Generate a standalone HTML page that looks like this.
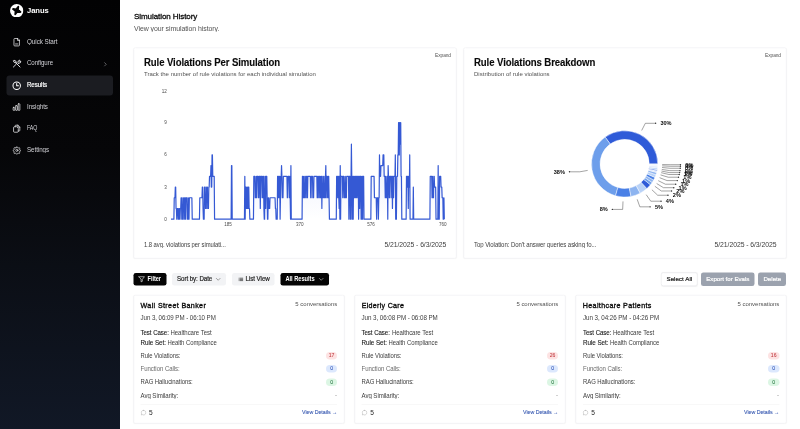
<!DOCTYPE html>
<html lang="en">
<head>
<meta charset="utf-8">
<title>Janus - Simulation History</title>
<style>
html{font-size:2px}
*{box-sizing:border-box;margin:0;padding:0}
body{width:800px;height:429px;overflow:hidden;background:#fff;font-family:"Liberation Sans",sans-serif;color:#111}
#root{position:absolute;left:0;top:0;width:800rem;height:429rem;transform:scale(.5);transform-origin:0 0;background:#fff;overflow:hidden}
.abs,.t,.ic,.logo,.card,.btn,.bd,.navon{position:absolute}
.t{white-space:nowrap;line-height:1}
.ic{fill:none;stroke-linecap:round;stroke-linejoin:round;display:block}
#side{position:absolute;left:0;top:0;width:120rem;height:429rem;background:linear-gradient(180deg,#020203 0%,#060608 35%,#0b0e15 62%,#111826 100%)}
.navon{border-radius:3rem;background:#1b1c21}
.card{background:#fff;border:.5rem solid #ededf0;border-radius:1.8rem;box-shadow:0 .5rem 1.2rem rgba(0,0,0,.04)}
.btn{border-radius:2.3rem}
.btn.k{background:#050505}
.btn.l{background:#f2f3f5}
.btn.w{background:#fff;border:.5rem solid #e2e3e6;box-shadow:0 .4rem 1rem rgba(0,0,0,.05)}
.btn.g{background:#9ba2ae}
.bd{width:11.3rem;height:7.7rem;border-radius:3.9rem}
.bd.red{background:#fde3e3}
.bd.blu{background:#dce8fd}
.bd.grn{background:#dcf6e4}
svg text{font-family:"Liberation Sans",sans-serif}
</style>
</head>
<body>
<div id="root">
<div id="side"></div>
<div class="navon" style="left:6.6rem;top:75.3rem;width:106.6rem;height:20.2rem"></div>
<svg class="logo" viewBox="0 0 24 24" style="left:9.9rem;top:3.8rem;width:13.4rem;height:13.4rem"><circle cx="12" cy="12" r="12" fill="#fff"/><path d="M14.80 5.02L14.22 10.80L18.78 14.40L13.00 13.82L9.40 18.38L9.98 12.60L5.42 9.00L11.20 9.58Z" fill="#050505" stroke="#050505" stroke-width="3.3" stroke-linejoin="round"/></svg>
<div class="t" style="left:27.10rem;top:6.53rem;font-size:7.7rem;color:#fff;letter-spacing:-0.077rem;font-weight:700;transform:scaleX(0.9933);transform-origin:0 50%">Janus</div>
<svg class="ic" viewBox="0 0 24 24" style="left:11.90rem;top:37.60rem;width:9.4rem;height:9.4rem;stroke:#e4e4e7;stroke-width:2.0"><path d="M14 2.5H7a2 2 0 0 0-2 2v15a2 2 0 0 0 2 2h10a2 2 0 0 0 2-2V7.5z"/><path d="M14 2.500V7.500h5"/><path d="M9 16.500h6"/></svg>
<div class="t" style="left:27.10rem;top:38.06rem;font-size:6.9rem;color:#d2d2d7;letter-spacing:-0.069rem;transform:scaleX(0.9152);transform-origin:0 50%">Quick Start</div>
<svg class="ic" viewBox="0 0 24 24" style="left:11.90rem;top:59.18rem;width:9.4rem;height:9.4rem;stroke:#e4e4e7;stroke-width:2.4"><path d="M3.500 20.500l7.500-7.500"/><path d="M20.500 20.500L10 10"/><path d="M10 10L5.500 8.500 3.500 4.500l1.500-1.500 4 2z"/><path d="M13.500 10.500l2.300-2.300a3.700 3.700 0 0 1 4.700-4.700l-2.500 2.500 2 2 2.500-2.500a3.700 3.700 0 0 1-4.700 4.700L15.500 12.500"/></svg>
<div class="t" style="left:27.10rem;top:59.64rem;font-size:6.9rem;color:#d2d2d7;letter-spacing:-0.069rem;transform:scaleX(0.8888);transform-origin:0 50%">Configure</div>
<svg class="ic" viewBox="0 0 24 24" style="left:11.90rem;top:80.76rem;width:9.4rem;height:9.4rem;stroke:#fff;stroke-width:2.6"><circle cx="12" cy="12" r="9.5"/><path d="M12 6.500V12h4.500"/></svg>
<div class="t" style="left:27.10rem;top:81.22rem;font-size:6.9rem;color:#fff;letter-spacing:-0.069rem;-webkit-text-stroke:0.2rem #fff;transform:scaleX(0.8896);transform-origin:0 50%">Results</div>
<svg class="ic" viewBox="0 0 24 24" style="left:12.10rem;top:102.54rem;width:9.0rem;height:9.0rem;stroke:#e4e4e7;stroke-width:2.0"><rect x="3" y="13" width="4.500" height="8" rx="1"/><rect x="9.800" y="8.500" width="4.500" height="12.500" rx="1"/><rect x="16.500" y="3.500" width="4.500" height="17.500" rx="1"/></svg>
<div class="t" style="left:27.10rem;top:102.80rem;font-size:6.9rem;color:#d2d2d7;letter-spacing:-0.069rem;transform:scaleX(0.8971);transform-origin:0 50%">Insights</div>
<svg class="ic" viewBox="0 0 24 24" style="left:11.90rem;top:123.92rem;width:9.4rem;height:9.4rem;stroke:#e4e4e7;stroke-width:2.0"><path d="M8 7V5a2 2 0 0 1 2-2h5l5 5v8a2 2 0 0 1-2 2h-2"/><path d="M15 3v5h5"/><path d="M4 9a2 2 0 0 1 2-2h6l4 4v8a2 2 0 0 1-2 2H6a2 2 0 0 1-2-2z"/></svg>
<div class="t" style="left:27.10rem;top:124.38rem;font-size:6.9rem;color:#d2d2d7;letter-spacing:-0.069rem;transform:scaleX(0.7610);transform-origin:0 50%">FAQ</div>
<svg class="ic" viewBox="0 0 24 24" style="left:12.25rem;top:145.85rem;width:8.7rem;height:8.7rem;stroke:#e4e4e7;stroke-width:2.0"><path d="M10.300 3.300a1.750 1.750 0 0 1 3.400 0l.250 1a1.750 1.750 0 0 0 2.600 1.100l.900-.550a1.750 1.750 0 0 1 2.400 2.400l-.550.900a1.750 1.750 0 0 0 1.100 2.600l1 .250a1.750 1.750 0 0 1 0 3.400l-1 .250a1.750 1.750 0 0 0-1.100 2.600l.550.900a1.750 1.750 0 0 1-2.400 2.400l-.900-.550a1.750 1.750 0 0 0-2.600 1.100l-.250 1a1.750 1.750 0 0 1-3.400 0l-.250-1a1.750 1.750 0 0 0-2.600-1.100l-.900.550a1.750 1.750 0 0 1-2.400-2.400l.550-.900a1.750 1.750 0 0 0-1.100-2.600l-1-.250a1.750 1.750 0 0 1 0-3.400l1-.250a1.750 1.750 0 0 0 1.100-2.600l-.550-.900a1.750 1.750 0 0 1 2.400-2.400l.900.550a1.750 1.750 0 0 0 2.600-1.100z"/><circle cx="12" cy="12" r="3"/></svg>
<div class="t" style="left:27.10rem;top:145.96rem;font-size:6.9rem;color:#d2d2d7;letter-spacing:-0.069rem;transform:scaleX(0.9039);transform-origin:0 50%">Settings</div>
<svg class="ic" viewBox="0 0 24 24" style="left:102.4rem;top:61.3rem;width:5.6rem;height:5.6rem;stroke:#b4b4bb;stroke-width:2.2"><path d="M9 5l7 7-7 7"/></svg>
<div class="t" style="left:134.00rem;top:11.64rem;font-size:8.1rem;color:#0a0a0a;letter-spacing:-0.081rem;-webkit-text-stroke:0.3rem #0a0a0a;transform:scaleX(0.9923);transform-origin:0 50%">Simulation History</div>
<div class="t" style="left:134.00rem;top:24.72rem;font-size:7.0rem;color:#525252;letter-spacing:-0.070rem;transform:scaleX(0.9919);transform-origin:0 50%">View your simulation history.</div>
<div class="card" style="left:133.5rem;top:47.3rem;width:322.8rem;height:211rem"></div>
<div class="card" style="left:463.7rem;top:47.3rem;width:322.8rem;height:211rem"></div>
<div class="t" style="left:144.00rem;top:56.97rem;font-size:10.25rem;color:#0a0a0a;letter-spacing:-0.103rem;font-weight:700;-webkit-text-stroke:0.12rem #0a0a0a;transform:scaleX(0.9354);transform-origin:0 50%">Rule Violations Per Simulation</div>
<div class="t" style="left:144.00rem;top:71.02rem;font-size:6.0rem;color:#525252;letter-spacing:0.020rem">Track the number of rule violations for each individual simulation</div>
<div class="t" style="left:434.95rem;top:52.85rem;font-size:4.9rem;color:#525252;letter-spacing:-0.049rem;transform:scaleX(0.9802);transform-origin:0 50%">Expand</div>
<div class="t" style="left:144.00rem;top:240.57rem;font-size:7.0rem;color:#404040;letter-spacing:-0.070rem;transform:scaleX(0.8414);transform-origin:0 50%">1.8 avg. violations per simulati...</div>
<div class="t" style="left:384.25rem;top:240.57rem;font-size:7.0rem;color:#404040;letter-spacing:-0.070rem;transform:scaleX(0.9758);transform-origin:0 50%">5/21/2025 - 6/3/2025</div>
<div class="t" style="left:474.00rem;top:56.97rem;font-size:10.25rem;color:#0a0a0a;letter-spacing:-0.103rem;font-weight:700;-webkit-text-stroke:0.12rem #0a0a0a;transform:scaleX(0.9368);transform-origin:0 50%">Rule Violations Breakdown</div>
<div class="t" style="left:474.00rem;top:71.02rem;font-size:6.0rem;color:#525252;letter-spacing:0.019rem">Distribution of rule violations</div>
<div class="t" style="left:765.10rem;top:52.85rem;font-size:4.9rem;color:#525252;letter-spacing:-0.049rem;transform:scaleX(0.9802);transform-origin:0 50%">Expand</div>
<div class="t" style="left:474.00rem;top:240.57rem;font-size:7.0rem;color:#404040;letter-spacing:-0.070rem;transform:scaleX(0.8626);transform-origin:0 50%">Top Violation: Don&#x27;t answer queries asking fo...</div>
<div class="t" style="left:714.40rem;top:240.57rem;font-size:7.0rem;color:#404040;letter-spacing:-0.070rem;transform:scaleX(0.9798);transform-origin:0 50%">5/21/2025 - 6/3/2025</div>
<svg class="abs" style="left:133.5rem;top:47.3rem;width:322.8rem;height:211rem" viewBox="133.5 47.3 322.8 211"><defs><linearGradient id="lg" x1="0" y1="0" x2="0" y2="1"><stop offset="0" stop-color="#4169e1" stop-opacity=".16"/><stop offset="1" stop-color="#4169e1" stop-opacity="0"/></linearGradient></defs>
<path d="M171.00,219.00 171.36,219.00 171.72,219.00 172.08,219.00 172.44,219.00 172.80,219.00 173.16,219.00 173.52,219.00 173.88,219.00 174.24,197.56 174.60,197.56 174.96,197.56 175.32,186.84 175.68,186.84 176.04,208.28 176.40,208.28 176.76,219.00 177.12,208.28 177.48,208.28 177.84,208.28 178.20,219.00 178.56,208.28 178.92,219.00 179.28,208.28 179.64,208.28 180.00,219.00 180.36,208.28 180.72,208.28 181.08,197.56 181.44,197.56 181.80,219.00 182.16,197.56 182.52,219.00 182.88,219.00 183.24,219.00 183.60,197.56 183.96,197.56 184.32,197.56 184.68,219.00 185.04,197.56 185.40,197.56 185.76,219.00 186.12,197.56 186.48,197.56 186.84,197.56 187.20,197.56 187.56,219.00 187.92,219.00 188.28,219.00 188.64,197.56 189.00,219.00 189.36,197.56 189.72,197.56 190.08,197.56 190.44,197.56 190.80,197.56 191.16,197.56 191.52,197.56 191.88,197.56 192.24,219.00 192.60,219.00 192.96,219.00 193.32,219.00 193.68,219.00 194.05,219.00 194.41,219.00 194.77,219.00 195.13,219.00 195.49,219.00 195.85,219.00 196.21,219.00 196.57,219.00 196.93,219.00 197.29,219.00 197.65,219.00 198.01,219.00 198.37,219.00 198.73,219.00 199.09,219.00 199.45,219.00 199.81,197.56 200.17,197.56 200.53,197.56 200.89,197.56 201.25,197.56 201.61,197.56 201.97,197.56 202.33,186.84 202.69,186.84 203.05,208.28 203.41,219.00 203.77,219.00 204.13,219.00 204.49,186.84 204.85,186.84 205.21,186.84 205.57,208.28 205.93,208.28 206.29,208.28 206.65,186.84 207.01,186.84 207.37,186.84 207.73,208.28 208.09,208.28 208.45,208.28 208.81,186.84 209.17,186.84 209.53,176.12 209.89,176.12 210.25,176.12 210.61,176.12 210.97,165.40 211.33,186.84 211.69,186.84 212.05,154.68 212.41,154.68 212.77,176.12 213.13,176.12 213.49,176.12 213.85,176.12 214.21,176.12 214.57,219.00 214.93,219.00 215.29,219.00 215.65,219.00 216.01,219.00 216.37,219.00 216.73,219.00 217.09,219.00 217.45,219.00 217.81,219.00 218.17,219.00 218.53,219.00 218.89,219.00 219.25,219.00 219.61,219.00 219.97,219.00 220.33,219.00 220.69,219.00 221.05,219.00 221.41,219.00 221.77,219.00 222.13,219.00 222.49,219.00 222.85,219.00 223.21,219.00 223.57,219.00 223.93,219.00 224.29,219.00 224.65,219.00 225.01,219.00 225.37,219.00 225.73,219.00 226.09,219.00 226.45,219.00 226.81,219.00 227.17,219.00 227.53,219.00 227.89,219.00 228.25,219.00 228.61,219.00 228.97,219.00 229.33,219.00 229.69,219.00 230.05,219.00 230.41,219.00 230.77,219.00 231.13,219.00 231.49,165.40 231.85,165.40 232.21,219.00 232.57,219.00 232.93,219.00 233.29,219.00 233.65,219.00 234.01,219.00 234.37,219.00 234.73,219.00 235.09,219.00 235.45,219.00 235.81,219.00 236.17,219.00 236.53,219.00 236.89,219.00 237.25,219.00 237.61,219.00 237.97,219.00 238.33,219.00 238.69,219.00 239.05,219.00 239.42,219.00 239.78,219.00 240.14,219.00 240.50,219.00 240.86,219.00 241.22,219.00 241.58,219.00 241.94,219.00 242.30,219.00 242.66,219.00 243.02,219.00 243.38,219.00 243.74,219.00 244.10,219.00 244.46,219.00 244.82,176.12 245.18,219.00 245.54,186.84 245.90,186.84 246.26,208.28 246.62,208.28 246.98,186.84 247.34,186.84 247.70,208.28 248.06,208.28 248.42,186.84 248.78,186.84 249.14,208.28 249.50,208.28 249.86,219.00 250.22,219.00 250.58,219.00 250.94,219.00 251.30,219.00 251.66,219.00 252.02,219.00 252.38,219.00 252.74,219.00 253.10,219.00 253.46,219.00 253.82,176.12 254.18,176.12 254.54,176.12 254.90,176.12 255.26,197.56 255.62,197.56 255.98,197.56 256.34,176.12 256.70,197.56 257.06,176.12 257.42,176.12 257.78,176.12 258.14,176.12 258.50,197.56 258.86,197.56 259.22,176.12 259.58,176.12 259.94,176.12 260.30,208.28 260.66,176.12 261.02,176.12 261.38,176.12 261.74,176.12 262.10,197.56 262.46,176.12 262.82,197.56 263.18,176.12 263.54,176.12 263.90,208.28 264.26,219.00 264.62,219.00 264.98,176.12 265.34,176.12 265.70,208.28 266.06,176.12 266.42,176.12 266.78,176.12 267.14,197.56 267.50,219.00 267.86,219.00 268.22,197.56 268.58,197.56 268.94,208.28 269.30,208.28 269.66,208.28 270.02,197.56 270.38,197.56 270.74,197.56 271.10,197.56 271.46,197.56 271.82,197.56 272.18,197.56 272.54,197.56 272.90,197.56 273.26,197.56 273.62,197.56 273.98,197.56 274.34,197.56 274.70,197.56 275.06,197.56 275.42,208.28 275.78,208.28 276.14,219.00 276.50,219.00 276.86,219.00 277.22,219.00 277.58,176.12 277.94,176.12 278.30,197.56 278.66,176.12 279.02,176.12 279.38,197.56 279.74,176.12 280.10,219.00 280.46,197.56 280.82,176.12 281.18,176.12 281.54,165.40 281.90,176.12 282.26,197.56 282.62,197.56 282.98,197.56 283.34,176.12 283.70,176.12 284.06,176.12 284.42,176.12 284.78,176.12 285.15,176.12 285.51,176.12 285.87,176.12 286.23,176.12 286.59,176.12 286.95,176.12 287.31,197.56 287.67,197.56 288.03,176.12 288.39,176.12 288.75,176.12 289.11,176.12 289.47,197.56 289.83,176.12 290.19,197.56 290.55,219.00 290.91,165.40 291.27,219.00 291.63,219.00 291.99,219.00 292.35,219.00 292.71,219.00 293.07,219.00 293.43,219.00 293.79,219.00 294.15,219.00 294.51,219.00 294.87,219.00 295.23,219.00 295.59,219.00 295.95,219.00 296.31,219.00 296.67,219.00 297.03,219.00 297.39,219.00 297.75,219.00 298.11,219.00 298.47,219.00 298.83,219.00 299.19,219.00 299.55,219.00 299.91,219.00 300.27,219.00 300.63,219.00 300.99,219.00 301.35,219.00 301.71,219.00 302.07,219.00 302.43,176.12 302.79,176.12 303.15,197.56 303.51,197.56 303.87,176.12 304.23,176.12 304.59,197.56 304.95,197.56 305.31,197.56 305.67,176.12 306.03,176.12 306.39,176.12 306.75,197.56 307.11,176.12 307.47,197.56 307.83,176.12 308.19,176.12 308.55,176.12 308.91,176.12 309.27,176.12 309.63,176.12 309.99,176.12 310.35,176.12 310.71,197.56 311.07,197.56 311.43,176.12 311.79,176.12 312.15,176.12 312.51,176.12 312.87,197.56 313.23,197.56 313.59,197.56 313.95,176.12 314.31,176.12 314.67,176.12 315.03,176.12 315.39,176.12 315.75,176.12 316.11,176.12 316.47,176.12 316.83,176.12 317.19,197.56 317.55,176.12 317.91,197.56 318.27,197.56 318.63,176.12 318.99,176.12 319.35,176.12 319.71,197.56 320.07,176.12 320.43,197.56 320.79,197.56 321.15,176.12 321.51,176.12 321.87,208.28 322.23,176.12 322.59,197.56 322.95,197.56 323.31,197.56 323.67,176.12 324.03,176.12 324.39,197.56 324.75,197.56 325.11,197.56 325.47,176.12 325.83,165.40 326.19,197.56 326.55,176.12 326.91,176.12 327.27,176.12 327.63,197.56 327.99,197.56 328.35,176.12 328.71,176.12 329.07,197.56 329.43,219.00 329.79,219.00 330.15,219.00 330.52,219.00 330.88,219.00 331.24,219.00 331.60,219.00 331.96,219.00 332.32,219.00 332.68,219.00 333.04,219.00 333.40,219.00 333.76,219.00 334.12,219.00 334.48,219.00 334.84,219.00 335.20,219.00 335.56,219.00 335.92,219.00 336.28,219.00 336.64,176.12 337.00,176.12 337.36,176.12 337.72,197.56 338.08,176.12 338.44,176.12 338.80,197.56 339.16,208.28 339.52,176.12 339.88,219.00 340.24,165.40 340.60,219.00 340.96,176.12 341.32,176.12 341.68,176.12 342.04,176.12 342.40,176.12 342.76,197.56 343.12,176.12 343.48,176.12 343.84,176.12 344.20,197.56 344.56,197.56 344.92,197.56 345.28,176.12 345.64,197.56 346.00,197.56 346.36,197.56 346.72,176.12 347.08,176.12 347.44,176.12 347.80,176.12 348.16,176.12 348.52,176.12 348.88,219.00 349.24,176.12 349.60,176.12 349.96,176.12 350.32,219.00 350.68,219.00 351.04,176.12 351.40,143.96 351.76,176.12 352.12,219.00 352.48,219.00 352.84,176.12 353.20,219.00 353.56,176.12 353.92,176.12 354.28,197.56 354.64,176.12 355.00,197.56 355.36,176.12 355.72,176.12 356.08,197.56 356.44,176.12 356.80,176.12 357.16,197.56 357.52,176.12 357.88,176.12 358.24,176.12 358.60,219.00 358.96,176.12 359.32,176.12 359.68,208.28 360.04,176.12 360.40,176.12 360.76,176.12 361.12,219.00 361.48,219.00 361.84,176.12 362.20,176.12 362.56,219.00 362.92,176.12 363.28,176.12 363.64,176.12 364.00,219.00 364.36,219.00 364.72,219.00 365.08,219.00 365.44,219.00 365.80,219.00 366.16,219.00 366.52,219.00 366.88,219.00 367.24,219.00 367.60,219.00 367.96,219.00 368.32,219.00 368.68,219.00 369.04,219.00 369.40,219.00 369.76,219.00 370.12,219.00 370.48,219.00 370.84,219.00 371.20,176.12 371.56,176.12 371.92,176.12 372.28,176.12 372.64,176.12 373.00,176.12 373.36,176.12 373.72,176.12 374.08,176.12 374.44,197.56 374.80,197.56 375.16,197.56 375.52,197.56 375.88,197.56 376.25,197.56 376.61,219.00 376.97,197.56 377.33,197.56 377.69,197.56 378.05,197.56 378.41,219.00 378.77,197.56 379.13,197.56 379.49,154.68 379.85,176.12 380.21,176.12 380.57,176.12 380.93,165.40 381.29,165.40 381.65,165.40 382.01,165.40 382.37,165.40 382.73,165.40 383.09,154.68 383.45,154.68 383.81,154.68 384.17,176.12 384.53,176.12 384.89,176.12 385.25,197.56 385.61,176.12 385.97,176.12 386.33,197.56 386.69,197.56 387.05,197.56 387.41,176.12 387.77,219.00 388.13,165.40 388.49,176.12 388.85,176.12 389.21,197.56 389.57,176.12 389.93,197.56 390.29,176.12 390.65,176.12 391.01,176.12 391.37,176.12 391.73,197.56 392.09,176.12 392.45,208.28 392.81,176.12 393.17,176.12 393.53,197.56 393.89,176.12 394.25,176.12 394.61,176.12 394.97,176.12 395.33,154.68 395.69,219.00 396.05,219.00 396.41,219.00 396.77,176.12 397.13,176.12 397.49,176.12 397.85,154.68 398.21,154.68 398.57,122.52 398.93,122.52 399.29,154.68 399.65,122.52 400.01,122.52 400.37,143.96 400.73,122.52 401.09,176.12 401.45,176.12 401.81,219.00 402.17,219.00 402.53,219.00 402.89,219.00 403.25,219.00 403.61,219.00 403.97,219.00 404.33,219.00 404.69,219.00 405.05,219.00 405.41,219.00 405.77,219.00 406.13,219.00 406.49,176.12 406.85,176.12 407.21,186.84 407.57,176.12 407.93,176.12 408.29,208.28 408.65,176.12 409.01,176.12 409.37,186.84 409.73,154.68 410.09,219.00 410.45,219.00 410.81,219.00 411.17,219.00 411.53,219.00 411.89,219.00 412.25,219.00 412.61,219.00 412.97,219.00 413.33,186.84 413.69,219.00 414.05,219.00 414.41,219.00 414.77,219.00 415.13,219.00 415.49,219.00 415.85,219.00 416.21,219.00 416.57,219.00 416.93,219.00 417.29,219.00 417.65,219.00 418.01,219.00 418.37,219.00 418.73,219.00 419.09,219.00 419.45,219.00 419.81,219.00 420.17,219.00 420.53,219.00 420.89,219.00 421.25,219.00 421.62,219.00 421.98,219.00 422.34,219.00 422.70,219.00 423.06,219.00 423.42,219.00 423.78,219.00 424.14,219.00 424.50,219.00 424.86,219.00 425.22,219.00 425.58,219.00 425.94,219.00 426.30,219.00 426.66,219.00 427.02,219.00 427.38,219.00 427.74,219.00 428.10,219.00 428.46,219.00 428.82,219.00 429.18,219.00 429.54,219.00 429.90,219.00 430.26,176.12 430.62,176.12 430.98,176.12 431.34,176.12 431.70,176.12 432.06,197.56 432.42,176.12 432.78,197.56 433.14,197.56 433.50,197.56 433.86,176.12 434.22,176.12 434.58,186.84 434.94,186.84 435.30,186.84 435.66,186.84 436.02,219.00 436.38,219.00 436.74,219.00 437.10,219.00 437.46,219.00 437.82,219.00 438.18,165.40 438.54,219.00 438.90,219.00 439.26,219.00 439.62,176.12 439.98,176.12 440.34,176.12 440.70,176.12 441.06,186.84 441.42,186.84 441.78,186.84 442.14,197.56 442.50,197.56 442.86,197.56 443.22,219.00 443.58,219.00 443.94,197.56 444.30,219.00 L444.30,219.0 L171.00,219.0 Z" fill="url(#lg)" stroke="none"/>
<path d="M171.00,219.00 171.36,219.00 171.72,219.00 172.08,219.00 172.44,219.00 172.80,219.00 173.16,219.00 173.52,219.00 173.88,219.00 174.24,197.56 174.60,197.56 174.96,197.56 175.32,186.84 175.68,186.84 176.04,208.28 176.40,208.28 176.76,219.00 177.12,208.28 177.48,208.28 177.84,208.28 178.20,219.00 178.56,208.28 178.92,219.00 179.28,208.28 179.64,208.28 180.00,219.00 180.36,208.28 180.72,208.28 181.08,197.56 181.44,197.56 181.80,219.00 182.16,197.56 182.52,219.00 182.88,219.00 183.24,219.00 183.60,197.56 183.96,197.56 184.32,197.56 184.68,219.00 185.04,197.56 185.40,197.56 185.76,219.00 186.12,197.56 186.48,197.56 186.84,197.56 187.20,197.56 187.56,219.00 187.92,219.00 188.28,219.00 188.64,197.56 189.00,219.00 189.36,197.56 189.72,197.56 190.08,197.56 190.44,197.56 190.80,197.56 191.16,197.56 191.52,197.56 191.88,197.56 192.24,219.00 192.60,219.00 192.96,219.00 193.32,219.00 193.68,219.00 194.05,219.00 194.41,219.00 194.77,219.00 195.13,219.00 195.49,219.00 195.85,219.00 196.21,219.00 196.57,219.00 196.93,219.00 197.29,219.00 197.65,219.00 198.01,219.00 198.37,219.00 198.73,219.00 199.09,219.00 199.45,219.00 199.81,197.56 200.17,197.56 200.53,197.56 200.89,197.56 201.25,197.56 201.61,197.56 201.97,197.56 202.33,186.84 202.69,186.84 203.05,208.28 203.41,219.00 203.77,219.00 204.13,219.00 204.49,186.84 204.85,186.84 205.21,186.84 205.57,208.28 205.93,208.28 206.29,208.28 206.65,186.84 207.01,186.84 207.37,186.84 207.73,208.28 208.09,208.28 208.45,208.28 208.81,186.84 209.17,186.84 209.53,176.12 209.89,176.12 210.25,176.12 210.61,176.12 210.97,165.40 211.33,186.84 211.69,186.84 212.05,154.68 212.41,154.68 212.77,176.12 213.13,176.12 213.49,176.12 213.85,176.12 214.21,176.12 214.57,219.00 214.93,219.00 215.29,219.00 215.65,219.00 216.01,219.00 216.37,219.00 216.73,219.00 217.09,219.00 217.45,219.00 217.81,219.00 218.17,219.00 218.53,219.00 218.89,219.00 219.25,219.00 219.61,219.00 219.97,219.00 220.33,219.00 220.69,219.00 221.05,219.00 221.41,219.00 221.77,219.00 222.13,219.00 222.49,219.00 222.85,219.00 223.21,219.00 223.57,219.00 223.93,219.00 224.29,219.00 224.65,219.00 225.01,219.00 225.37,219.00 225.73,219.00 226.09,219.00 226.45,219.00 226.81,219.00 227.17,219.00 227.53,219.00 227.89,219.00 228.25,219.00 228.61,219.00 228.97,219.00 229.33,219.00 229.69,219.00 230.05,219.00 230.41,219.00 230.77,219.00 231.13,219.00 231.49,165.40 231.85,165.40 232.21,219.00 232.57,219.00 232.93,219.00 233.29,219.00 233.65,219.00 234.01,219.00 234.37,219.00 234.73,219.00 235.09,219.00 235.45,219.00 235.81,219.00 236.17,219.00 236.53,219.00 236.89,219.00 237.25,219.00 237.61,219.00 237.97,219.00 238.33,219.00 238.69,219.00 239.05,219.00 239.42,219.00 239.78,219.00 240.14,219.00 240.50,219.00 240.86,219.00 241.22,219.00 241.58,219.00 241.94,219.00 242.30,219.00 242.66,219.00 243.02,219.00 243.38,219.00 243.74,219.00 244.10,219.00 244.46,219.00 244.82,176.12 245.18,219.00 245.54,186.84 245.90,186.84 246.26,208.28 246.62,208.28 246.98,186.84 247.34,186.84 247.70,208.28 248.06,208.28 248.42,186.84 248.78,186.84 249.14,208.28 249.50,208.28 249.86,219.00 250.22,219.00 250.58,219.00 250.94,219.00 251.30,219.00 251.66,219.00 252.02,219.00 252.38,219.00 252.74,219.00 253.10,219.00 253.46,219.00 253.82,176.12 254.18,176.12 254.54,176.12 254.90,176.12 255.26,197.56 255.62,197.56 255.98,197.56 256.34,176.12 256.70,197.56 257.06,176.12 257.42,176.12 257.78,176.12 258.14,176.12 258.50,197.56 258.86,197.56 259.22,176.12 259.58,176.12 259.94,176.12 260.30,208.28 260.66,176.12 261.02,176.12 261.38,176.12 261.74,176.12 262.10,197.56 262.46,176.12 262.82,197.56 263.18,176.12 263.54,176.12 263.90,208.28 264.26,219.00 264.62,219.00 264.98,176.12 265.34,176.12 265.70,208.28 266.06,176.12 266.42,176.12 266.78,176.12 267.14,197.56 267.50,219.00 267.86,219.00 268.22,197.56 268.58,197.56 268.94,208.28 269.30,208.28 269.66,208.28 270.02,197.56 270.38,197.56 270.74,197.56 271.10,197.56 271.46,197.56 271.82,197.56 272.18,197.56 272.54,197.56 272.90,197.56 273.26,197.56 273.62,197.56 273.98,197.56 274.34,197.56 274.70,197.56 275.06,197.56 275.42,208.28 275.78,208.28 276.14,219.00 276.50,219.00 276.86,219.00 277.22,219.00 277.58,176.12 277.94,176.12 278.30,197.56 278.66,176.12 279.02,176.12 279.38,197.56 279.74,176.12 280.10,219.00 280.46,197.56 280.82,176.12 281.18,176.12 281.54,165.40 281.90,176.12 282.26,197.56 282.62,197.56 282.98,197.56 283.34,176.12 283.70,176.12 284.06,176.12 284.42,176.12 284.78,176.12 285.15,176.12 285.51,176.12 285.87,176.12 286.23,176.12 286.59,176.12 286.95,176.12 287.31,197.56 287.67,197.56 288.03,176.12 288.39,176.12 288.75,176.12 289.11,176.12 289.47,197.56 289.83,176.12 290.19,197.56 290.55,219.00 290.91,165.40 291.27,219.00 291.63,219.00 291.99,219.00 292.35,219.00 292.71,219.00 293.07,219.00 293.43,219.00 293.79,219.00 294.15,219.00 294.51,219.00 294.87,219.00 295.23,219.00 295.59,219.00 295.95,219.00 296.31,219.00 296.67,219.00 297.03,219.00 297.39,219.00 297.75,219.00 298.11,219.00 298.47,219.00 298.83,219.00 299.19,219.00 299.55,219.00 299.91,219.00 300.27,219.00 300.63,219.00 300.99,219.00 301.35,219.00 301.71,219.00 302.07,219.00 302.43,176.12 302.79,176.12 303.15,197.56 303.51,197.56 303.87,176.12 304.23,176.12 304.59,197.56 304.95,197.56 305.31,197.56 305.67,176.12 306.03,176.12 306.39,176.12 306.75,197.56 307.11,176.12 307.47,197.56 307.83,176.12 308.19,176.12 308.55,176.12 308.91,176.12 309.27,176.12 309.63,176.12 309.99,176.12 310.35,176.12 310.71,197.56 311.07,197.56 311.43,176.12 311.79,176.12 312.15,176.12 312.51,176.12 312.87,197.56 313.23,197.56 313.59,197.56 313.95,176.12 314.31,176.12 314.67,176.12 315.03,176.12 315.39,176.12 315.75,176.12 316.11,176.12 316.47,176.12 316.83,176.12 317.19,197.56 317.55,176.12 317.91,197.56 318.27,197.56 318.63,176.12 318.99,176.12 319.35,176.12 319.71,197.56 320.07,176.12 320.43,197.56 320.79,197.56 321.15,176.12 321.51,176.12 321.87,208.28 322.23,176.12 322.59,197.56 322.95,197.56 323.31,197.56 323.67,176.12 324.03,176.12 324.39,197.56 324.75,197.56 325.11,197.56 325.47,176.12 325.83,165.40 326.19,197.56 326.55,176.12 326.91,176.12 327.27,176.12 327.63,197.56 327.99,197.56 328.35,176.12 328.71,176.12 329.07,197.56 329.43,219.00 329.79,219.00 330.15,219.00 330.52,219.00 330.88,219.00 331.24,219.00 331.60,219.00 331.96,219.00 332.32,219.00 332.68,219.00 333.04,219.00 333.40,219.00 333.76,219.00 334.12,219.00 334.48,219.00 334.84,219.00 335.20,219.00 335.56,219.00 335.92,219.00 336.28,219.00 336.64,176.12 337.00,176.12 337.36,176.12 337.72,197.56 338.08,176.12 338.44,176.12 338.80,197.56 339.16,208.28 339.52,176.12 339.88,219.00 340.24,165.40 340.60,219.00 340.96,176.12 341.32,176.12 341.68,176.12 342.04,176.12 342.40,176.12 342.76,197.56 343.12,176.12 343.48,176.12 343.84,176.12 344.20,197.56 344.56,197.56 344.92,197.56 345.28,176.12 345.64,197.56 346.00,197.56 346.36,197.56 346.72,176.12 347.08,176.12 347.44,176.12 347.80,176.12 348.16,176.12 348.52,176.12 348.88,219.00 349.24,176.12 349.60,176.12 349.96,176.12 350.32,219.00 350.68,219.00 351.04,176.12 351.40,143.96 351.76,176.12 352.12,219.00 352.48,219.00 352.84,176.12 353.20,219.00 353.56,176.12 353.92,176.12 354.28,197.56 354.64,176.12 355.00,197.56 355.36,176.12 355.72,176.12 356.08,197.56 356.44,176.12 356.80,176.12 357.16,197.56 357.52,176.12 357.88,176.12 358.24,176.12 358.60,219.00 358.96,176.12 359.32,176.12 359.68,208.28 360.04,176.12 360.40,176.12 360.76,176.12 361.12,219.00 361.48,219.00 361.84,176.12 362.20,176.12 362.56,219.00 362.92,176.12 363.28,176.12 363.64,176.12 364.00,219.00 364.36,219.00 364.72,219.00 365.08,219.00 365.44,219.00 365.80,219.00 366.16,219.00 366.52,219.00 366.88,219.00 367.24,219.00 367.60,219.00 367.96,219.00 368.32,219.00 368.68,219.00 369.04,219.00 369.40,219.00 369.76,219.00 370.12,219.00 370.48,219.00 370.84,219.00 371.20,176.12 371.56,176.12 371.92,176.12 372.28,176.12 372.64,176.12 373.00,176.12 373.36,176.12 373.72,176.12 374.08,176.12 374.44,197.56 374.80,197.56 375.16,197.56 375.52,197.56 375.88,197.56 376.25,197.56 376.61,219.00 376.97,197.56 377.33,197.56 377.69,197.56 378.05,197.56 378.41,219.00 378.77,197.56 379.13,197.56 379.49,154.68 379.85,176.12 380.21,176.12 380.57,176.12 380.93,165.40 381.29,165.40 381.65,165.40 382.01,165.40 382.37,165.40 382.73,165.40 383.09,154.68 383.45,154.68 383.81,154.68 384.17,176.12 384.53,176.12 384.89,176.12 385.25,197.56 385.61,176.12 385.97,176.12 386.33,197.56 386.69,197.56 387.05,197.56 387.41,176.12 387.77,219.00 388.13,165.40 388.49,176.12 388.85,176.12 389.21,197.56 389.57,176.12 389.93,197.56 390.29,176.12 390.65,176.12 391.01,176.12 391.37,176.12 391.73,197.56 392.09,176.12 392.45,208.28 392.81,176.12 393.17,176.12 393.53,197.56 393.89,176.12 394.25,176.12 394.61,176.12 394.97,176.12 395.33,154.68 395.69,219.00 396.05,219.00 396.41,219.00 396.77,176.12 397.13,176.12 397.49,176.12 397.85,154.68 398.21,154.68 398.57,122.52 398.93,122.52 399.29,154.68 399.65,122.52 400.01,122.52 400.37,143.96 400.73,122.52 401.09,176.12 401.45,176.12 401.81,219.00 402.17,219.00 402.53,219.00 402.89,219.00 403.25,219.00 403.61,219.00 403.97,219.00 404.33,219.00 404.69,219.00 405.05,219.00 405.41,219.00 405.77,219.00 406.13,219.00 406.49,176.12 406.85,176.12 407.21,186.84 407.57,176.12 407.93,176.12 408.29,208.28 408.65,176.12 409.01,176.12 409.37,186.84 409.73,154.68 410.09,219.00 410.45,219.00 410.81,219.00 411.17,219.00 411.53,219.00 411.89,219.00 412.25,219.00 412.61,219.00 412.97,219.00 413.33,186.84 413.69,219.00 414.05,219.00 414.41,219.00 414.77,219.00 415.13,219.00 415.49,219.00 415.85,219.00 416.21,219.00 416.57,219.00 416.93,219.00 417.29,219.00 417.65,219.00 418.01,219.00 418.37,219.00 418.73,219.00 419.09,219.00 419.45,219.00 419.81,219.00 420.17,219.00 420.53,219.00 420.89,219.00 421.25,219.00 421.62,219.00 421.98,219.00 422.34,219.00 422.70,219.00 423.06,219.00 423.42,219.00 423.78,219.00 424.14,219.00 424.50,219.00 424.86,219.00 425.22,219.00 425.58,219.00 425.94,219.00 426.30,219.00 426.66,219.00 427.02,219.00 427.38,219.00 427.74,219.00 428.10,219.00 428.46,219.00 428.82,219.00 429.18,219.00 429.54,219.00 429.90,219.00 430.26,176.12 430.62,176.12 430.98,176.12 431.34,176.12 431.70,176.12 432.06,197.56 432.42,176.12 432.78,197.56 433.14,197.56 433.50,197.56 433.86,176.12 434.22,176.12 434.58,186.84 434.94,186.84 435.30,186.84 435.66,186.84 436.02,219.00 436.38,219.00 436.74,219.00 437.10,219.00 437.46,219.00 437.82,219.00 438.18,165.40 438.54,219.00 438.90,219.00 439.26,219.00 439.62,176.12 439.98,176.12 440.34,176.12 440.70,176.12 441.06,186.84 441.42,186.84 441.78,186.84 442.14,197.56 442.50,197.56 442.86,197.56 443.22,219.00 443.58,219.00 443.94,197.56 444.30,219.00" fill="none" stroke="#3559d4" stroke-width="1.2" stroke-linejoin="round"/>
<text x="166.9" y="220.55" font-size="4.6" fill="#4a4a4a" text-anchor="end">0</text>
<text x="166.9" y="188.39" font-size="4.6" fill="#4a4a4a" text-anchor="end">3</text>
<text x="166.9" y="156.23" font-size="4.6" fill="#4a4a4a" text-anchor="end">6</text>
<text x="166.9" y="124.07" font-size="4.6" fill="#4a4a4a" text-anchor="end">9</text>
<text x="166.9" y="92.71" font-size="4.6" fill="#4a4a4a" text-anchor="end">12</text>
<text x="228.0" y="225.6" font-size="4.6" fill="#4a4a4a" text-anchor="middle">185</text>
<text x="299.7" y="225.6" font-size="4.6" fill="#4a4a4a" text-anchor="middle">370</text>
<text x="371.1" y="225.6" font-size="4.6" fill="#4a4a4a" text-anchor="middle">576</text>
<text x="442.7" y="225.6" font-size="4.6" fill="#4a4a4a" text-anchor="middle">760</text></svg>
<svg class="abs" style="left:463.7rem;top:47.3rem;width:322.8rem;height:211rem" viewBox="463.7 47.3 322.8 211"><path d="M658.00 163.70A33.15 33.15 0 0 0 605.36 136.88L610.39 143.80A24.6 24.6 0 0 1 649.45 163.70Z" fill="#2f5bd8" stroke="#fff" stroke-width="0.45"/>
<path d="M605.36 136.88A33.15 33.15 0 0 0 615.71 195.57L618.07 187.35A24.6 24.6 0 0 1 610.39 143.80Z" fill="#6d9eeb" stroke="#fff" stroke-width="0.45"/>
<path d="M615.71 195.57A33.15 33.15 0 0 0 631.18 196.24L629.54 187.85A24.6 24.6 0 0 1 618.07 187.35Z" fill="#4a80e6" stroke="#fff" stroke-width="0.45"/>
<path d="M631.18 196.24A33.15 33.15 0 0 0 640.41 192.97L636.40 185.42A24.6 24.6 0 0 1 629.54 187.85Z" fill="#8db4f0" stroke="#fff" stroke-width="0.45"/>
<path d="M640.41 192.97A33.15 33.15 0 0 0 647.03 188.34L641.31 181.98A24.6 24.6 0 0 1 636.40 185.42Z" fill="#b9d2f7" stroke="#fff" stroke-width="0.45"/>
<path d="M647.03 188.34A33.15 33.15 0 0 0 650.61 184.56L643.97 179.18A24.6 24.6 0 0 1 641.31 181.98Z" fill="#2f5bd8" stroke="#fff" stroke-width="0.45"/>
<path d="M650.61 184.56A33.15 33.15 0 0 0 652.33 182.24L645.24 177.46A24.6 24.6 0 0 1 643.97 179.18Z" fill="#6d9eeb" stroke="#fff" stroke-width="0.45"/>
<path d="M652.33 182.24A33.15 33.15 0 0 0 653.84 179.77L646.37 175.63A24.6 24.6 0 0 1 645.24 177.46Z" fill="#8db4f0" stroke="#fff" stroke-width="0.45"/>
<path d="M653.84 179.77A33.15 33.15 0 0 0 655.13 177.18L647.32 173.71A24.6 24.6 0 0 1 646.37 175.63Z" fill="#4a80e6" stroke="#fff" stroke-width="0.45"/>
<path d="M655.13 177.18A33.15 33.15 0 0 0 656.19 174.49L648.11 171.71A24.6 24.6 0 0 1 647.32 173.71Z" fill="#b9d2f7" stroke="#fff" stroke-width="0.45"/>
<path d="M656.19 174.49A33.15 33.15 0 0 0 656.87 172.28L648.61 170.07A24.6 24.6 0 0 1 648.11 171.71Z" fill="#8db4f0" stroke="#fff" stroke-width="0.45"/>
<path d="M656.87 172.28A33.15 33.15 0 0 0 657.28 170.59L648.91 168.81A24.6 24.6 0 0 1 648.61 170.07Z" fill="#dbe7fb" stroke="#fff" stroke-width="0.45"/>
<path d="M657.28 170.59A33.15 33.15 0 0 0 657.50 169.46L649.08 167.97A24.6 24.6 0 0 1 648.91 168.81Z" fill="#2f5bd8" stroke="#fff" stroke-width="0.45"/>
<path d="M657.50 169.46A33.15 33.15 0 0 0 657.75 167.74L649.27 166.70A24.6 24.6 0 0 1 649.08 167.97Z" fill="#b9d2f7" stroke="#fff" stroke-width="0.45"/>
<path d="M657.75 167.74A33.15 33.15 0 0 0 657.92 166.01L649.39 165.42A24.6 24.6 0 0 1 649.27 166.70Z" fill="#dbe7fb" stroke="#fff" stroke-width="0.45"/>
<path d="M657.92 166.01A33.15 33.15 0 0 0 657.98 164.86L649.44 164.56A24.6 24.6 0 0 1 649.39 165.42Z" fill="#e8f0fd" stroke="#fff" stroke-width="0.45"/>
<path d="M657.98 164.86A33.15 33.15 0 0 0 658.00 163.70L649.45 163.70A24.6 24.6 0 0 1 649.44 164.56Z" fill="#eef4fe" stroke="#fff" stroke-width="0.45"/>
<path d="M641.90 130.24L645.53 123.11L655.83 123.11" fill="none" stroke="#333" stroke-width="0.45"/>
<circle cx="655.83" cy="123.11" r="0.7" fill="#333"/>
<text x="660.63" y="125.06" font-size="5.6" font-weight="700" fill="#0a0a0a" text-anchor="start">30%</text>
<path d="M587.87 170.22L579.99 171.61L569.69 171.61" fill="none" stroke="#333" stroke-width="0.45"/>
<circle cx="569.69" cy="171.61" r="0.7" fill="#333"/>
<text x="565.09" y="173.56" font-size="5.6" font-weight="700" fill="#0a0a0a" text-anchor="end">38%</text>
<path d="M623.21 201.21L622.86 209.21L612.56 209.21" fill="none" stroke="#333" stroke-width="0.45"/>
<circle cx="612.56" cy="209.21" r="0.7" fill="#333"/>
<text x="607.96" y="211.16" font-size="5.6" font-weight="700" fill="#0a0a0a" text-anchor="end">8%</text>
<path d="M637.38 199.10L640.05 206.64L650.35 206.64" fill="none" stroke="#333" stroke-width="0.45"/>
<circle cx="650.35" cy="206.64" r="0.7" fill="#333"/>
<text x="655.15" y="208.59" font-size="5.6" font-weight="700" fill="#0a0a0a" text-anchor="start">5%</text>
<path d="M646.39 194.46L650.98 201.01L661.28 201.01" fill="none" stroke="#333" stroke-width="0.45"/>
<circle cx="661.28" cy="201.01" r="0.7" fill="#333"/>
<text x="666.08" y="202.96" font-size="5.6" font-weight="700" fill="#0a0a0a" text-anchor="start">4%</text>
<path d="M652.09 189.55L657.89 195.05L668.19 195.05" fill="none" stroke="#333" stroke-width="0.45"/>
<circle cx="668.19" cy="195.05" r="0.7" fill="#333"/>
<text x="672.99" y="197.00" font-size="5.6" font-weight="700" fill="#0a0a0a" text-anchor="start">2%</text>
<path d="M655.03 186.04L661.47 190.79L671.77 190.79" fill="none" stroke="#333" stroke-width="0.45"/>
<circle cx="671.77" cy="190.79" r="0.7" fill="#333"/>
<text x="676.57" y="192.74" font-size="5.6" font-weight="700" fill="#0a0a0a" text-anchor="start">2%</text>
<path d="M656.87 183.32L663.69 187.50L673.99 187.50" fill="none" stroke="#333" stroke-width="0.45"/>
<circle cx="673.99" cy="187.50" r="0.7" fill="#333"/>
<text x="678.79" y="189.45" font-size="5.6" font-weight="700" fill="#0a0a0a" text-anchor="start">1%</text>
<path d="M658.45 180.45L665.61 184.02L675.91 184.02" fill="none" stroke="#333" stroke-width="0.45"/>
<circle cx="675.91" cy="184.02" r="0.7" fill="#333"/>
<text x="680.71" y="185.97" font-size="5.6" font-weight="700" fill="#0a0a0a" text-anchor="start">1%</text>
<path d="M659.79 177.46L667.23 180.39L677.53 180.39" fill="none" stroke="#333" stroke-width="0.45"/>
<circle cx="677.53" cy="180.39" r="0.7" fill="#333"/>
<text x="682.33" y="182.34" font-size="5.6" font-weight="700" fill="#0a0a0a" text-anchor="start">1%</text>
<path d="M660.76 174.68L668.41 177.02L678.71 177.02" fill="none" stroke="#333" stroke-width="0.45"/>
<circle cx="678.71" cy="177.02" r="0.7" fill="#333"/>
<text x="683.51" y="178.97" font-size="5.6" font-weight="700" fill="#0a0a0a" text-anchor="start">1%</text>
<path d="M661.36 172.47L669.14 174.33L679.44 174.33" fill="none" stroke="#333" stroke-width="0.45"/>
<circle cx="679.44" cy="174.33" r="0.7" fill="#333"/>
<text x="684.24" y="176.28" font-size="5.6" font-weight="700" fill="#0a0a0a" text-anchor="start">1%</text>
<path d="M661.71 170.86L669.56 172.39L679.86 172.39" fill="none" stroke="#333" stroke-width="0.45"/>
<circle cx="679.86" cy="172.39" r="0.7" fill="#333"/>
<text x="684.66" y="174.34" font-size="5.6" font-weight="700" fill="#0a0a0a" text-anchor="start">0%</text>
<path d="M661.99 169.25L669.90 170.43L680.20 170.43" fill="none" stroke="#333" stroke-width="0.45"/>
<circle cx="680.20" cy="170.43" r="0.7" fill="#333"/>
<text x="685.00" y="172.38" font-size="5.6" font-weight="700" fill="#0a0a0a" text-anchor="start">0%</text>
<path d="M662.23 167.30L670.19 168.07L680.49 168.07" fill="none" stroke="#333" stroke-width="0.45"/>
<circle cx="680.49" cy="168.07" r="0.7" fill="#333"/>
<text x="685.29" y="170.02" font-size="5.6" font-weight="700" fill="#0a0a0a" text-anchor="start">0%</text>
<path d="M662.35 165.67L670.34 166.08L680.64 166.08" fill="none" stroke="#333" stroke-width="0.45"/>
<circle cx="680.64" cy="166.08" r="0.7" fill="#333"/>
<text x="685.44" y="168.03" font-size="5.6" font-weight="700" fill="#0a0a0a" text-anchor="start">0%</text>
<path d="M662.39 164.36L670.39 164.49L680.69 164.49" fill="none" stroke="#333" stroke-width="0.45"/>
<circle cx="680.69" cy="164.49" r="0.7" fill="#333"/>
<text x="685.49" y="166.44" font-size="5.6" font-weight="700" fill="#0a0a0a" text-anchor="start">0%</text></svg>
<div class="btn k" style="left:133.7rem;top:272.95rem;width:32.75rem;height:12.8rem"></div>
<div class="btn l" style="left:172.0rem;top:272.95rem;width:54.00rem;height:12.8rem"></div>
<div class="btn l" style="left:231.75rem;top:272.95rem;width:42.75rem;height:12.8rem"></div>
<div class="btn k" style="left:280.5rem;top:272.95rem;width:48.45rem;height:12.8rem"></div>
<div class="btn w" style="left:661.2rem;top:272.5rem;width:36.20rem;height:13.5rem"></div>
<div class="btn g" style="left:701.0rem;top:272.5rem;width:53.60rem;height:13.5rem"></div>
<div class="btn g" style="left:758.2rem;top:272.5rem;width:28.00rem;height:13.5rem"></div>
<svg class="ic" viewBox="0 0 24 24" style="left:137.9rem;top:275.5rem;width:7.4rem;height:7.4rem;stroke:#fff;stroke-width:1.9"><path d="M3 4h18l-7 8.500V19l-4 1.500v-8z"/></svg>
<div class="t" style="left:147.70rem;top:276.17rem;font-size:6.3rem;color:#fff;letter-spacing:-0.063rem;font-weight:700;transform:scaleX(0.8947);transform-origin:0 50%">Filter</div>
<div class="t" style="left:176.95rem;top:276.17rem;font-size:6.3rem;color:#262626;letter-spacing:-0.063rem;-webkit-text-stroke:0.2rem #262626;transform:scaleX(0.9789);transform-origin:0 50%">Sort by: Date</div>
<svg class="ic" viewBox="0 0 24 24" style="left:215.1rem;top:276.2rem;width:6.4rem;height:6.4rem;stroke:#404040;stroke-width:1.8"><path d="M5 9l7 7 7-7"/></svg>
<svg class="ic" viewBox="0 0 24 24" style="left:237.9rem;top:276.3rem;width:5.8rem;height:5.8rem;stroke:#171717;stroke-width:2.6"><path d="M9 7h11M9 12h11M9 17h11M4.500 7h.01M4.500 12h.01M4.500 17h.01"/></svg>
<div class="t" style="left:245.70rem;top:276.17rem;font-size:6.3rem;color:#262626;letter-spacing:-0.063rem;-webkit-text-stroke:0.2rem #262626;transform:scaleX(0.9881);transform-origin:0 50%">List View</div>
<div class="t" style="left:285.45rem;top:276.17rem;font-size:6.3rem;color:#fff;letter-spacing:-0.063rem;font-weight:700;transform:scaleX(0.9114);transform-origin:0 50%">All Results</div>
<svg class="ic" viewBox="0 0 24 24" style="left:317.8rem;top:276.2rem;width:6.4rem;height:6.4rem;stroke:#fff;stroke-width:1.8"><path d="M5 9l7 7 7-7"/></svg>
<div class="t" style="left:666.50rem;top:276.05rem;font-size:6.2rem;color:#171717;letter-spacing:0.022rem;-webkit-text-stroke:0.2rem #171717">Select All</div>
<div class="t" style="left:706.25rem;top:276.05rem;font-size:6.2rem;color:#fff;letter-spacing:-0.041rem;-webkit-text-stroke:0.2rem #fff">Export for Evals</div>
<div class="t" style="left:763.40rem;top:276.05rem;font-size:6.2rem;color:#fff;letter-spacing:-0.014rem;-webkit-text-stroke:0.2rem #fff">Delete</div>
<div class="card" style="left:133.5rem;top:294.9rem;width:210.8rem;height:128.40rem"></div>
<div class="t" style="left:140.50rem;top:301.94rem;font-size:7.1rem;color:#0a0a0a;letter-spacing:0.375rem;-webkit-text-stroke:0.32rem #0a0a0a">Wall Street Banker</div>
<div class="t" style="left:295.35rem;top:300.67rem;font-size:6.0rem;color:#525252;letter-spacing:-0.012rem">5 conversations</div>
<div class="t" style="left:140.50rem;top:313.86rem;font-size:6.9rem;color:#404040;letter-spacing:-0.069rem;transform:scaleX(0.8944);transform-origin:0 50%">Jun 3, 06:09 PM - 06:10 PM</div>
<div class="t" style="left:140.50rem;top:328.84rem;font-size:6.8rem;color:#171717;letter-spacing:-0.068rem;-webkit-text-stroke:0.1rem #171717;transform:scaleX(0.9012);transform-origin:0 50%">Test Case:</div>
<div class="t" style="left:170.70rem;top:328.84rem;font-size:6.8rem;color:#404040;letter-spacing:-0.068rem;transform:scaleX(0.8902);transform-origin:0 50%">Healthcare Test</div>
<div class="t" style="left:140.50rem;top:338.84rem;font-size:6.8rem;color:#171717;letter-spacing:-0.068rem;-webkit-text-stroke:0.1rem #171717;transform:scaleX(0.9261);transform-origin:0 50%">Rule Set:</div>
<div class="t" style="left:167.50rem;top:338.84rem;font-size:6.8rem;color:#404040;letter-spacing:-0.068rem;transform:scaleX(0.8747);transform-origin:0 50%">Health Compliance</div>
<div class="t" style="left:140.50rem;top:352.14rem;font-size:6.8rem;color:#404040;letter-spacing:-0.068rem;transform:scaleX(0.8676);transform-origin:0 50%">Rule Violations:</div>
<div class="bd red" style="left:325.90rem;top:351.95rem"></div>
<div class="t" style="left:328.71rem;top:353.23rem;font-size:5.1rem;color:#c0393f;-webkit-text-stroke:0.05rem #c0393f">17</div>
<div class="t" style="left:140.50rem;top:365.14rem;font-size:6.8rem;color:#6b6b6b;letter-spacing:-0.068rem;transform:scaleX(0.8916);transform-origin:0 50%">Function Calls:</div>
<div class="bd blu" style="left:325.90rem;top:364.95rem"></div>
<div class="t" style="left:330.13rem;top:366.23rem;font-size:5.1rem;color:#2f55b8;-webkit-text-stroke:0.05rem #2f55b8">0</div>
<div class="t" style="left:140.50rem;top:378.54rem;font-size:6.8rem;color:#404040;letter-spacing:-0.068rem;transform:scaleX(0.8772);transform-origin:0 50%">RAG Hallucinations:</div>
<div class="bd grn" style="left:325.90rem;top:378.35rem"></div>
<div class="t" style="left:330.13rem;top:379.63rem;font-size:5.1rem;color:#2a7a45;-webkit-text-stroke:0.05rem #2a7a45">0</div>
<div class="t" style="left:140.50rem;top:392.04rem;font-size:6.8rem;color:#404040;letter-spacing:-0.068rem;transform:scaleX(0.8988);transform-origin:0 50%">Avg Similarity:</div>
<div class="abs" style="left:334.80rem;top:395.50rem;width:2rem;height:.6rem;background:#a3a3a3"></div>
<div class="abs" style="left:140.5rem;top:404.5rem;width:196.70rem;height:.5rem;background:#f0f0f0"></div>
<svg class="ic" viewBox="0 0 24 24" style="left:140.30rem;top:409.6rem;width:6.2rem;height:6.2rem;stroke:#a3a3a3;stroke-width:1.8"><path d="M12 3a9 9 0 1 1-4.200 17L3 21l1.200-4.500A9 9 0 0 1 12 3z"/></svg>
<div class="t" style="left:149.00rem;top:408.91rem;font-size:6.6rem;color:#262626">5</div>
<div class="t" style="left:301.90rem;top:409.40rem;font-size:5.9rem;color:#3557b0;letter-spacing:-0.059rem;-webkit-text-stroke:0.1rem #3557b0;transform:scaleX(0.9022);transform-origin:0 50%">View Details →</div>
<div class="card" style="left:354.55rem;top:294.9rem;width:210.8rem;height:128.40rem"></div>
<div class="t" style="left:361.70rem;top:301.94rem;font-size:7.1rem;color:#0a0a0a;letter-spacing:0.294rem;-webkit-text-stroke:0.32rem #0a0a0a">Elderly Care</div>
<div class="t" style="left:516.40rem;top:300.67rem;font-size:6.0rem;color:#525252;letter-spacing:-0.012rem">5 conversations</div>
<div class="t" style="left:361.70rem;top:313.86rem;font-size:6.9rem;color:#404040;letter-spacing:-0.069rem;transform:scaleX(0.9063);transform-origin:0 50%">Jun 3, 06:08 PM - 06:08 PM</div>
<div class="t" style="left:361.70rem;top:328.84rem;font-size:6.8rem;color:#171717;letter-spacing:-0.068rem;-webkit-text-stroke:0.1rem #171717;transform:scaleX(0.9012);transform-origin:0 50%">Test Case:</div>
<div class="t" style="left:391.90rem;top:328.84rem;font-size:6.8rem;color:#404040;letter-spacing:-0.068rem;transform:scaleX(0.8902);transform-origin:0 50%">Healthcare Test</div>
<div class="t" style="left:361.70rem;top:338.84rem;font-size:6.8rem;color:#171717;letter-spacing:-0.068rem;-webkit-text-stroke:0.1rem #171717;transform:scaleX(0.9261);transform-origin:0 50%">Rule Set:</div>
<div class="t" style="left:388.70rem;top:338.84rem;font-size:6.8rem;color:#404040;letter-spacing:-0.068rem;transform:scaleX(0.8747);transform-origin:0 50%">Health Compliance</div>
<div class="t" style="left:361.70rem;top:352.14rem;font-size:6.8rem;color:#404040;letter-spacing:-0.068rem;transform:scaleX(0.8676);transform-origin:0 50%">Rule Violations:</div>
<div class="bd red" style="left:546.95rem;top:351.95rem"></div>
<div class="t" style="left:549.76rem;top:353.23rem;font-size:5.1rem;color:#c0393f;-webkit-text-stroke:0.05rem #c0393f">26</div>
<div class="t" style="left:361.70rem;top:365.14rem;font-size:6.8rem;color:#6b6b6b;letter-spacing:-0.068rem;transform:scaleX(0.8916);transform-origin:0 50%">Function Calls:</div>
<div class="bd blu" style="left:546.95rem;top:364.95rem"></div>
<div class="t" style="left:551.18rem;top:366.23rem;font-size:5.1rem;color:#2f55b8;-webkit-text-stroke:0.05rem #2f55b8">0</div>
<div class="t" style="left:361.70rem;top:378.54rem;font-size:6.8rem;color:#404040;letter-spacing:-0.068rem;transform:scaleX(0.8772);transform-origin:0 50%">RAG Hallucinations:</div>
<div class="bd grn" style="left:546.95rem;top:378.35rem"></div>
<div class="t" style="left:551.18rem;top:379.63rem;font-size:5.1rem;color:#2a7a45;-webkit-text-stroke:0.05rem #2a7a45">0</div>
<div class="t" style="left:361.70rem;top:392.04rem;font-size:6.8rem;color:#404040;letter-spacing:-0.068rem;transform:scaleX(0.8988);transform-origin:0 50%">Avg Similarity:</div>
<div class="abs" style="left:555.85rem;top:395.50rem;width:2rem;height:.6rem;background:#a3a3a3"></div>
<div class="abs" style="left:361.7rem;top:404.5rem;width:196.55rem;height:.5rem;background:#f0f0f0"></div>
<svg class="ic" viewBox="0 0 24 24" style="left:361.50rem;top:409.6rem;width:6.2rem;height:6.2rem;stroke:#a3a3a3;stroke-width:1.8"><path d="M12 3a9 9 0 1 1-4.200 17L3 21l1.200-4.500A9 9 0 0 1 12 3z"/></svg>
<div class="t" style="left:370.20rem;top:408.91rem;font-size:6.6rem;color:#262626">5</div>
<div class="t" style="left:522.95rem;top:409.40rem;font-size:5.9rem;color:#3557b0;letter-spacing:-0.059rem;-webkit-text-stroke:0.1rem #3557b0;transform:scaleX(0.9022);transform-origin:0 50%">View Details →</div>
<div class="card" style="left:575.65rem;top:294.9rem;width:210.8rem;height:128.40rem"></div>
<div class="t" style="left:582.75rem;top:301.94rem;font-size:7.1rem;color:#0a0a0a;letter-spacing:0.372rem;-webkit-text-stroke:0.32rem #0a0a0a">Healthcare Patients</div>
<div class="t" style="left:737.50rem;top:300.67rem;font-size:6.0rem;color:#525252;letter-spacing:-0.012rem">5 conversations</div>
<div class="t" style="left:582.75rem;top:313.86rem;font-size:6.9rem;color:#404040;letter-spacing:-0.069rem;transform:scaleX(0.9045);transform-origin:0 50%">Jun 3, 04:26 PM - 04:26 PM</div>
<div class="t" style="left:582.75rem;top:328.84rem;font-size:6.8rem;color:#171717;letter-spacing:-0.068rem;-webkit-text-stroke:0.1rem #171717;transform:scaleX(0.9012);transform-origin:0 50%">Test Case:</div>
<div class="t" style="left:612.95rem;top:328.84rem;font-size:6.8rem;color:#404040;letter-spacing:-0.068rem;transform:scaleX(0.8902);transform-origin:0 50%">Healthcare Test</div>
<div class="t" style="left:582.75rem;top:338.84rem;font-size:6.8rem;color:#171717;letter-spacing:-0.068rem;-webkit-text-stroke:0.1rem #171717;transform:scaleX(0.9261);transform-origin:0 50%">Rule Set:</div>
<div class="t" style="left:609.75rem;top:338.84rem;font-size:6.8rem;color:#404040;letter-spacing:-0.068rem;transform:scaleX(0.8747);transform-origin:0 50%">Health Compliance</div>
<div class="t" style="left:582.75rem;top:352.14rem;font-size:6.8rem;color:#404040;letter-spacing:-0.068rem;transform:scaleX(0.8676);transform-origin:0 50%">Rule Violations:</div>
<div class="bd red" style="left:768.05rem;top:351.95rem"></div>
<div class="t" style="left:770.86rem;top:353.23rem;font-size:5.1rem;color:#c0393f;-webkit-text-stroke:0.05rem #c0393f">16</div>
<div class="t" style="left:582.75rem;top:365.14rem;font-size:6.8rem;color:#6b6b6b;letter-spacing:-0.068rem;transform:scaleX(0.8916);transform-origin:0 50%">Function Calls:</div>
<div class="bd blu" style="left:768.05rem;top:364.95rem"></div>
<div class="t" style="left:772.28rem;top:366.23rem;font-size:5.1rem;color:#2f55b8;-webkit-text-stroke:0.05rem #2f55b8">0</div>
<div class="t" style="left:582.75rem;top:378.54rem;font-size:6.8rem;color:#404040;letter-spacing:-0.068rem;transform:scaleX(0.8772);transform-origin:0 50%">RAG Hallucinations:</div>
<div class="bd grn" style="left:768.05rem;top:378.35rem"></div>
<div class="t" style="left:772.28rem;top:379.63rem;font-size:5.1rem;color:#2a7a45;-webkit-text-stroke:0.05rem #2a7a45">0</div>
<div class="t" style="left:582.75rem;top:392.04rem;font-size:6.8rem;color:#404040;letter-spacing:-0.068rem;transform:scaleX(0.8988);transform-origin:0 50%">Avg Similarity:</div>
<div class="abs" style="left:776.95rem;top:395.50rem;width:2rem;height:.6rem;background:#a3a3a3"></div>
<div class="abs" style="left:582.75rem;top:404.5rem;width:196.60rem;height:.5rem;background:#f0f0f0"></div>
<svg class="ic" viewBox="0 0 24 24" style="left:582.55rem;top:409.6rem;width:6.2rem;height:6.2rem;stroke:#a3a3a3;stroke-width:1.8"><path d="M12 3a9 9 0 1 1-4.200 17L3 21l1.200-4.500A9 9 0 0 1 12 3z"/></svg>
<div class="t" style="left:591.25rem;top:408.91rem;font-size:6.6rem;color:#262626">5</div>
<div class="t" style="left:744.05rem;top:409.40rem;font-size:5.9rem;color:#3557b0;letter-spacing:-0.059rem;-webkit-text-stroke:0.1rem #3557b0;transform:scaleX(0.9022);transform-origin:0 50%">View Details →</div>
</div>
</body>
</html>
